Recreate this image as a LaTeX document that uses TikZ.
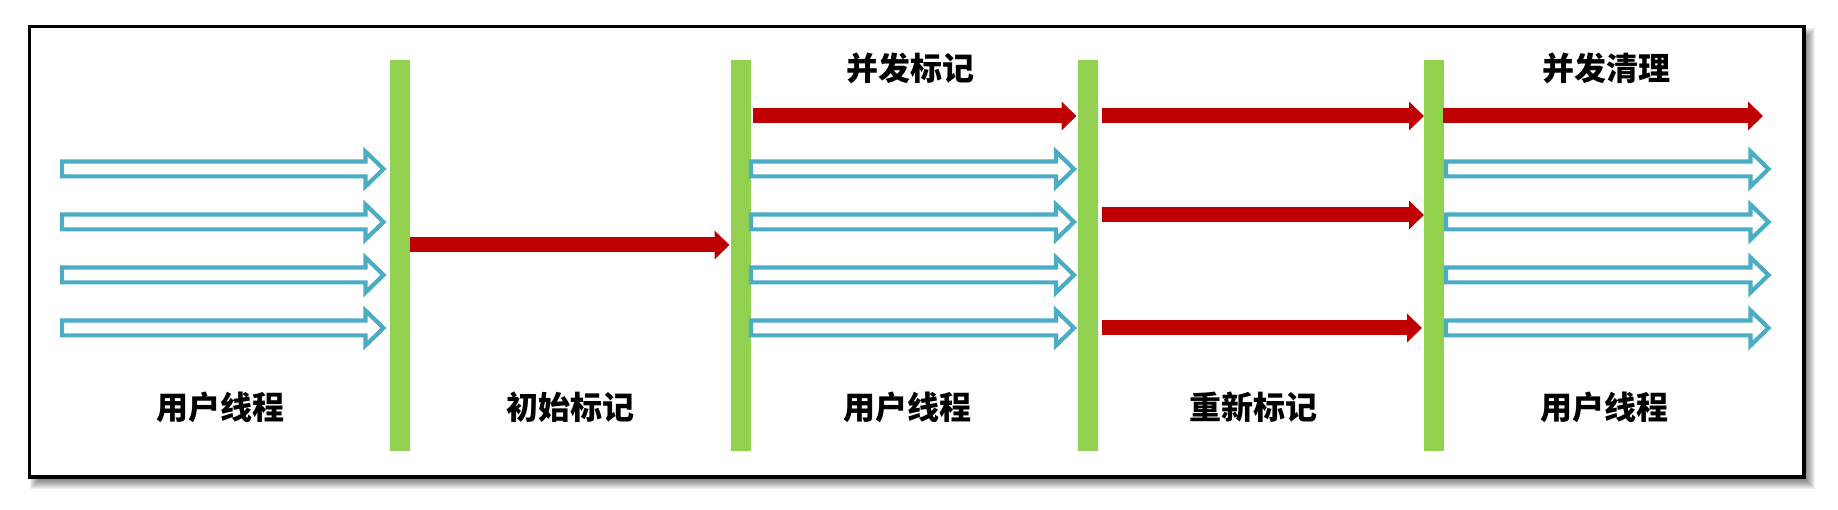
\documentclass[tikz,border=0pt]{standalone}
\usepackage{fontspec}
\newfontfamily\cjk{Noto Sans CJK SC}
\usetikzlibrary{arrows.meta,calc}
\definecolor{barg}{HTML}{92D050}
\definecolor{thrb}{HTML}{4BACC6}
\definecolor{gcr}{HTML}{C00000}
\newcommand\hollowarr[2]{%
  \draw[hol] ($(#1)+(0,-7.4)$) -- ($(#2)+(-18,-7.4)$) -- ($(#2)+(-18,-17.5)$) -- (#2)
    -- ($(#2)+(-18,17.5)$) -- ($(#2)+(-18,7.4)$) -- ($(#1)+(0,7.4)$) -- cycle;}
\begin{document}
\begin{tikzpicture}[x=1pt,y=-1pt,
  bar/.style={fill=barg, draw=none, minimum width=20pt, minimum height=391pt, inner sep=0pt, outer sep=0pt},
  lbl/.style={font=\cjk\bfseries\fontsize{32}{32}\selectfont, text=black, inner sep=0pt},
  redarr/.style={draw=gcr, line width=15pt, -{Triangle[length=15pt,width=28pt]}},
  hol/.style={draw=thrb, line width=4.2pt, fill=white, line join=miter},
]
\useasboundingbox (0,0) rectangle (1838,510);
% soft shadow
\foreach \k in {0,...,9} {
  \fill[black, opacity=0.06] ($(35,33)+(-5+\k,-5+\k)$) rectangle ($(1810,484)+(5-\k,5-\k)$);
}
% frame
\draw[line width=3.6pt, fill=white] (29.5,26.5) rectangle (1804,477);
% bars
\node[bar] (b1) at (400,255.5) {};
\node[bar] (b2) at (741,255.5) {};
\node[bar] (b3) at (1087.5,255.5) {};
\node[bar] (b4) at (1434,255.5) {};
% hollow (user thread) arrows
\foreach \y [count=\i] in {169,222,275,328} {
  \coordinate (u1s\i) at (62,\y);
  \coordinate (u1e\i) at ($(b1.west|-u1s\i)+(-6.5,0)$);
  \hollowarr{u1s\i}{u1e\i}
  \coordinate (u3s\i) at ($(b2.east|-u1s\i)+(0,0)$);
  \coordinate (u3e\i) at ($(b3.west|-u1s\i)+(-3.5,0)$);
  \hollowarr{u3s\i}{u3e\i}
  \coordinate (u5s\i) at ($(b4.east|-u1s\i)+(2,0)$);
  \coordinate (u5e\i) at ($(b4.east|-u1s\i)+(324.5,0)$);
  \hollowarr{u5s\i}{u5e\i}
}
% red (GC) arrows
\coordinate (r2) at (0,245);
\draw[redarr] (b1.east|-r2) -- ($(b2.west|-r2)+(-1.5,0)$);
\coordinate (r3) at (0,116);
\draw[redarr] ($(b2.east|-r3)+(2,0)$) -- ($(b3.west|-r3)+(-1,0)$);
\draw[redarr] ($(b3.east|-r3)+(4.5,0)$) -- (b4.west|-r3);
\coordinate (r4b) at (0,215);
\draw[redarr] ($(b3.east|-r4b)+(4.5,0)$) -- (b4.west|-r4b);
\coordinate (r4c) at (0,328);
\draw[redarr] ($(b3.east|-r4c)+(4.5,0)$) -- ($(b4.west|-r4c)+(-2,0)$);
\draw[redarr] ($(b4.east|-r3)+(-1,0)$) -- ($(b4.east|-r3)+(319,0)$);
% labels
\node[lbl] (t1) at (220,407) {用户线程};
\node[lbl] (t2) at (570,407) {初始标记};
\node[lbl] (t3) at (907,407) {用户线程};
\node[lbl] (t4) at (1253,407) {重新标记};
\node[lbl] (t5) at (1604,407) {用户线程};
\node[lbl] (t6) at (910,68) {并发标记};
\node[lbl] (t7) at (1606,68) {并发清理};
\end{tikzpicture}
\end{document}
